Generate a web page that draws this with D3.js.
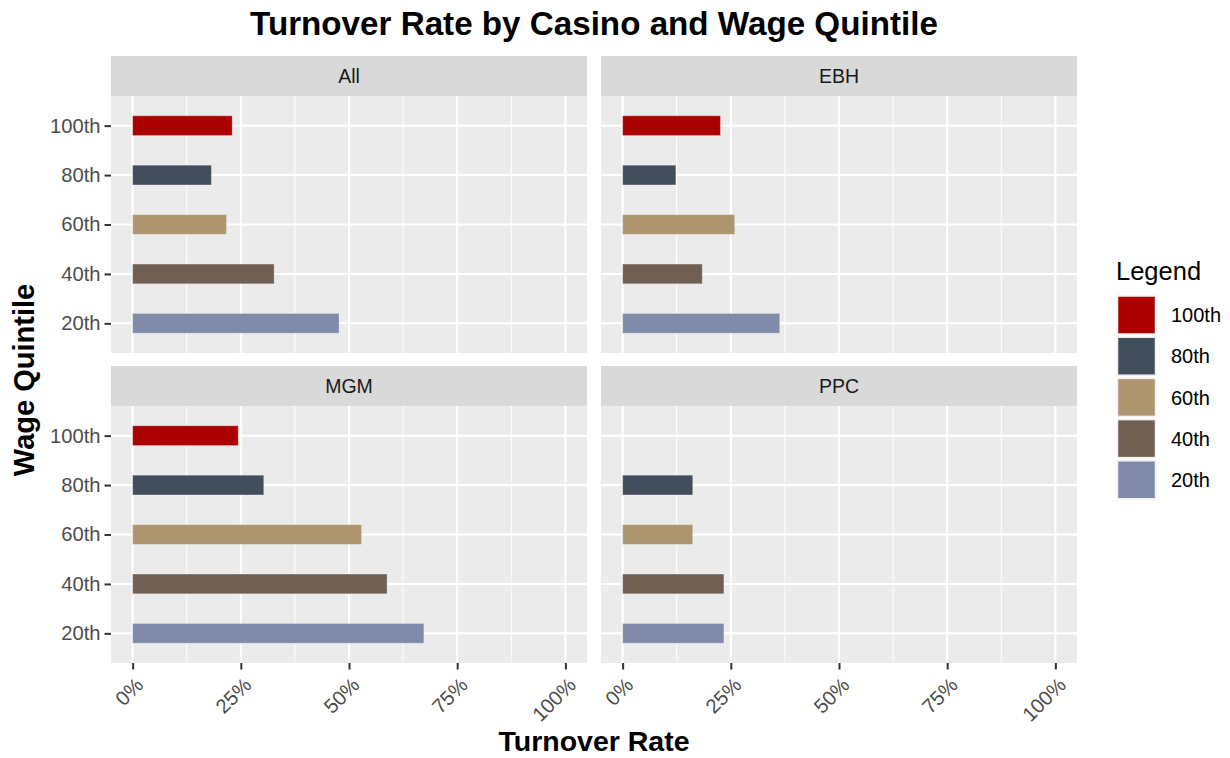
<!DOCTYPE html>
<html lang="en">
<head>
  <meta charset="UTF-8">
  <title>Turnover Rate by Casino and Wage Quintile</title>
  <script src="https://d3js.org/d3.v7.min.js"></script>
  <style>
    body { margin: 0; background: #fff; }
    svg text { font-family: "Liberation Sans", Arial, sans-serif; }
  </style>
</head>
<body>
  <div id="chart"></div>

  <script>
    // Chart data
    const casinos = ['All', 'EBH', 'MGM', 'PPC'];
    const quintiles = ['100th', '80th', '60th', '40th', '20th'];
    const quintileColors = ['#AA0000', '#424E5C', '#AD956F', '#725F54', '#7F8BA8'];
    const allRates = [0.230, 0.182, 0.217, 0.327, 0.477];
    const ebhRates = [0.226, 0.123, 0.259, 0.184, 0.363];
    const mgmRates = [0.244, 0.303, 0.529, 0.588, 0.673];
    const ppcRates = [null, 0.162, 0.162, 0.234, 0.234];
    const xTicks = [0, 0.25, 0.5, 0.75, 1];
    const xMinorTicks = [0.125, 0.375, 0.625, 0.875];

    const ratesByCasino = [allRates, ebhRates, mgmRates, ppcRates];

    const width = 1230;
    const height = 758;

    // facet layout
    const colX = [111, 601];
    const rowY = [56, 366];
    const panelW = 476;
    const stripH = 40;
    const panelH = 257;

    const svg = d3.select('#chart')
      .append('svg')
      .attr('width', width)
      .attr('height', height);

    const x = d3.scaleLinear()
      .domain([-0.05, 1.05])
      .range([0, panelW]);

    const y = d3.scalePoint()
      .domain(quintiles)
      .range([0, panelH])
      .padding(0.6);

    const color = d3.scaleOrdinal()
      .domain(quintiles)
      .range(quintileColors);

    const barH = y.step() * 0.4;

    casinos.forEach((casino, i) => {
      const col = i % 2;
      const row = Math.floor(i / 2);
      const g = svg.append('g')
        .attr('transform', `translate(${colX[col]}, ${rowY[row]})`);

      // strip
      g.append('rect')
        .attr('width', panelW)
        .attr('height', stripH)
        .attr('fill', '#D9D9D9');
      g.append('text')
        .attr('x', panelW / 2)
        .attr('y', stripH / 2)
        .attr('dy', '0.36em')
        .attr('text-anchor', 'middle')
        .attr('font-size', 19.5)
        .attr('fill', '#1A1A1A')
        .text(casino);

      const p = g.append('g').attr('transform', `translate(0, ${stripH})`);

      p.append('rect')
        .attr('width', panelW)
        .attr('height', panelH)
        .attr('fill', '#EBEBEB');

      // grid
      p.selectAll('.minor')
        .data(xMinorTicks)
        .enter()
        .append('line')
        .attr('x1', d => x(d)).attr('x2', d => x(d))
        .attr('y1', 0).attr('y2', panelH)
        .attr('stroke', '#fff')
        .attr('stroke-width', 1);
      p.selectAll('.majorx')
        .data(xTicks)
        .enter()
        .append('line')
        .attr('x1', d => x(d)).attr('x2', d => x(d))
        .attr('y1', 0).attr('y2', panelH)
        .attr('stroke', '#fff')
        .attr('stroke-width', 2);
      p.selectAll('.majory')
        .data(quintiles)
        .enter()
        .append('line')
        .attr('x1', 0).attr('x2', panelW)
        .attr('y1', d => y(d)).attr('y2', d => y(d))
        .attr('stroke', '#fff')
        .attr('stroke-width', 2);

      // bars
      const bars = quintiles
        .map((q, k) => ({ q, v: ratesByCasino[i][k] }))
        .filter(d => d.v != null);
      p.selectAll('.bar')
        .data(bars)
        .enter()
        .append('rect')
        .attr('x', x(0))
        .attr('y', d => y(d.q) - barH / 2)
        .attr('width', d => x(d.v) - x(0))
        .attr('height', barH)
        .attr('fill', d => color(d.q))
        .attr('stroke', '#fff')
        .attr('stroke-opacity', 0.3)
        .attr('stroke-width', 1);

      // y axis on left column
      if (col === 0) {
        const ya = p.append('g')
          .call(d3.axisLeft(y).tickSize(6.5).tickPadding(4));
        ya.select('.domain').remove();
        ya.selectAll('line').attr('stroke', '#333').attr('stroke-width', 2);
        ya.selectAll('text')
          .attr('font-size', 20.2)
          .attr('fill', '#4D4D4D')
          .attr('font-family', '"Liberation Sans", Arial, sans-serif');
      }

      // x axis on bottom row
      if (row === 1) {
        const xa = p.append('g')
          .attr('transform', `translate(0, ${panelH})`)
          .call(d3.axisBottom(x).tickValues(xTicks).tickSize(6.5).tickFormat(d3.format('.0%')));
        xa.select('.domain').remove();
        xa.selectAll('line').attr('stroke', '#333').attr('stroke-width', 2);
        xa.selectAll('text')
          .attr('font-size', 20.2)
          .attr('fill', '#4D4D4D')
          .attr('font-family', '"Liberation Sans", Arial, sans-serif')
          .attr('text-anchor', 'end')
          .attr('x', 0)
          .attr('y', 0)
          .attr('dy', '0.72em')
          .attr('transform', 'translate(1, 13) rotate(-45)');
      }
    });

    // titles
    svg.append('text')
      .attr('x', 594)
      .attr('y', 35)
      .attr('text-anchor', 'middle')
      .attr('font-size', 33.2)
      .attr('font-weight', 'bold')
      .attr('fill', '#000')
      .text('Turnover Rate by Casino and Wage Quintile');

    svg.append('text')
      .attr('x', 594)
      .attr('y', 751)
      .attr('text-anchor', 'middle')
      .attr('font-size', 28.5)
      .attr('font-weight', 'bold')
      .attr('fill', '#000')
      .text('Turnover Rate');

    svg.append('text')
      .attr('transform', 'translate(34, 380) rotate(-90)')
      .attr('text-anchor', 'middle')
      .attr('font-size', 29)
      .attr('font-weight', 'bold')
      .attr('fill', '#000')
      .text('Wage Quintile');

    // legend
    const legend = svg.append('g').attr('transform', 'translate(1116, 0)');
    legend.append('text')
      .attr('x', 0)
      .attr('y', 280)
      .attr('font-size', 25.5)
      .attr('fill', '#000')
      .text('Legend');

    const keyStep = 41.2;
    const keys = legend.selectAll('.key')
      .data(quintiles)
      .enter()
      .append('g')
      .attr('transform', (d, k) => `translate(0, ${296 + k * keyStep})`);
    keys.append('rect')
      .attr('x', 1.5)
      .attr('width', 38)
      .attr('height', 38)
      .attr('fill', d => color(d))
      .attr('stroke', '#F2F2F2')
      .attr('stroke-width', 1.5);
    keys.append('text')
      .attr('x', 55)
      .attr('y', 19)
      .attr('dy', '0.36em')
      .attr('font-size', 20)
      .attr('fill', '#000')
      .text(d => d);
  </script>
</body>
</html>
